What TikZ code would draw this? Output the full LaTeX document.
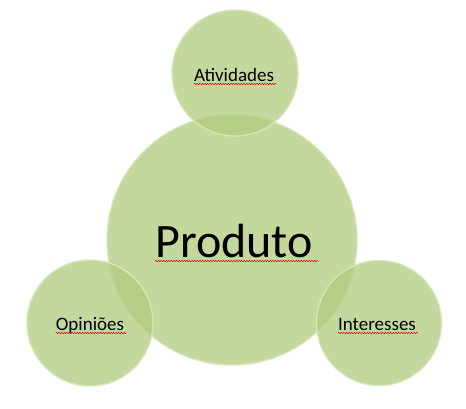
\documentclass[tikz,border=0pt]{standalone}
\usepackage{fontspec}
\setmainfont{Carlito}
\usetikzlibrary{decorations.pathmorphing}
\definecolor{leaf}{RGB}{176,202,124}
\definecolor{rim}{RGB}{214,230,186}
\begin{document}
\begin{tikzpicture}[
  x=1pt,
  y=-1pt,
  bubble/.style={
    circle,
    fill=leaf,
    fill opacity=0.74,
    draw=rim,
    draw opacity=0.9,
    line width=1.4pt,
    inner sep=0pt
  },
  caption/.style={inner sep=0pt, font=\fontsize{19}{21}\selectfont, text=black},
  title/.style={inner sep=0pt, font=\fontsize{48}{52}\selectfont, text=black},
  squiggle/.style={
    draw=red!90!black,
    line width=0.5pt,
    decorate,
    decoration={snake, amplitude=0.7pt, segment length=2.6pt}
  }
]
\useasboundingbox (0,0) rectangle (466,408);

% circles
\node[bubble, minimum size=250] (hub) at (232,240) {};
\node[bubble, minimum size=126] (top) at (235,73) {};
\node[bubble, minimum size=126] (left) at (90,323) {};
\node[bubble, minimum size=125] (right) at (379,323) {};

% labels
\node[title, anchor=base] (produto) at (234,257) {Produto};
\node[caption, anchor=base] (ativ) at (234,81) {Atividades};
\node[caption, anchor=base] (opin) at (90,330) {Opiniões};
\node[caption, anchor=base] (inter) at (377,330) {Interesses};

% spell-check marks
\draw[squiggle] ([yshift=-4pt]produto.base west) -- ([yshift=-4pt,xshift=6pt]produto.base east);
\foreach \w in {ativ,opin,inter}
  \draw[squiggle] ([yshift=-3pt]\w.base west) -- ([yshift=-3pt,xshift=2pt]\w.base east);
\end{tikzpicture}
\end{document}
